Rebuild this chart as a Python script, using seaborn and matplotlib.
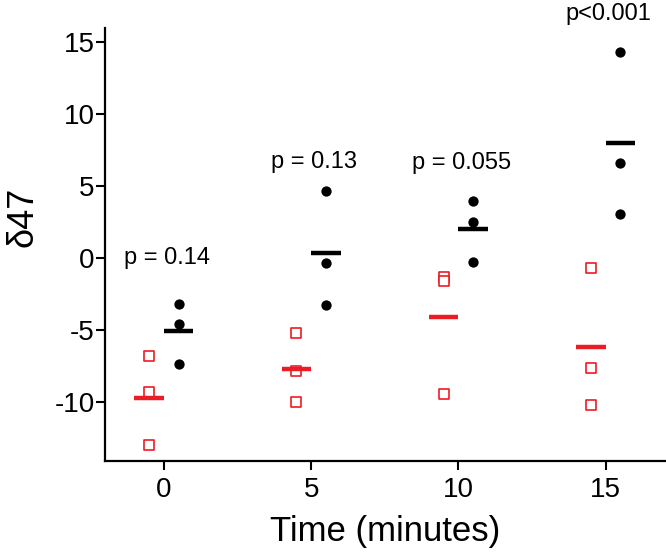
import numpy as np
import pandas as pd
import seaborn as sns
import matplotlib.pyplot as plt

# time points (minutes)
times = [0, 5, 10, 15]

# delta47 values, three replicates per time point
red_vals = [
    [-6.8, -9.33, -12.99],
    [-5.23, -7.82, -9.98],
    [-1.3, -1.6, -9.44],
    [-0.67, -7.62, -10.2],
]
black_vals = [
    [-3.19, -4.58, -7.36],
    [4.68, -0.37, -3.26],
    [3.96, 2.48, -0.26],
    [14.33, 6.62, 3.1],
]
p_labels = ["p = 0.14", "p = 0.13", "p = 0.055", "p<0.001"]
p_heights = [0.0, 6.7, 6.6, 17.0]

RED = "#ec1c24"
BLACK = "#000000"
offset = 0.5

rows = []
for t, rv, bv in zip(times, red_vals, black_vals):
    for v in rv:
        rows.append({"time": t, "group": "red", "value": v})
    for v in bv:
        rows.append({"time": t, "group": "black", "value": v})
df = pd.DataFrame(rows)
df["xpos"] = df["time"] + np.where(df["group"] == "red", -offset, offset)

sns.set_style("ticks", {"axes.edgecolor": "black", "text.color": "black",
                        "xtick.color": "black", "ytick.color": "black",
                        "axes.labelcolor": "black"})
plt.rcParams["font.family"] = ["Liberation Sans", "DejaVu Sans"]
plt.rcParams["axes.unicode_minus"] = False

fig = plt.figure(figsize=(6.66, 5.55), dpi=100)
# axes box in pixels: left 105, right 666, top 28, bottom 461
ax = fig.add_axes([105 / 666, (555 - 461) / 555, 561 / 666, (461 - 28) / 555])

red_df = df[df["group"] == "red"]
black_df = df[df["group"] == "black"]
sns.scatterplot(data=red_df, x="xpos", y="value", marker="s", s=42,
                facecolor="white", edgecolor=RED, linewidth=1.2, ax=ax, zorder=3)
sns.scatterplot(data=black_df, x="xpos", y="value", marker="o", s=55,
                color=BLACK, edgecolor=BLACK, linewidth=0, ax=ax, zorder=3)

means = df.groupby(["group", "xpos"])["value"].mean().reset_index()
for _, r in means.iterrows():
    c = RED if r["group"] == "red" else BLACK
    ax.hlines(r["value"], r["xpos"] - 0.5, r["xpos"] + 0.5, color=c, lw=3.2, zorder=4)

for t, lab, h in zip(times, p_labels, p_heights):
    ax.text(t + 0.1, h, lab, ha="center", va="center", fontsize=17, clip_on=False)

ax.set_xlim(-2, 17.05)
ax.set_ylim(-14.1, 16)
ax.set_xticks(times)
ax.set_yticks([-10, -5, 0, 5, 10, 15])
ax.tick_params(axis="both", labelsize=20, width=1.5, length=6.5)
ax.tick_params(axis="x", pad=5)
ax.tick_params(axis="y", pad=1)
ax.set_xlabel("Time (minutes)", fontsize=25, labelpad=9)
ax.set_ylabel("")
for s in ["left", "bottom"]:
    ax.spines[s].set_linewidth(1.6)
sns.despine(ax=ax)

fig.text(23 / 666, 1 - 217 / 555, "δ47", rotation=90, ha="center", va="center", fontsize=26)

fig.savefig("out.png", dpi=100)
